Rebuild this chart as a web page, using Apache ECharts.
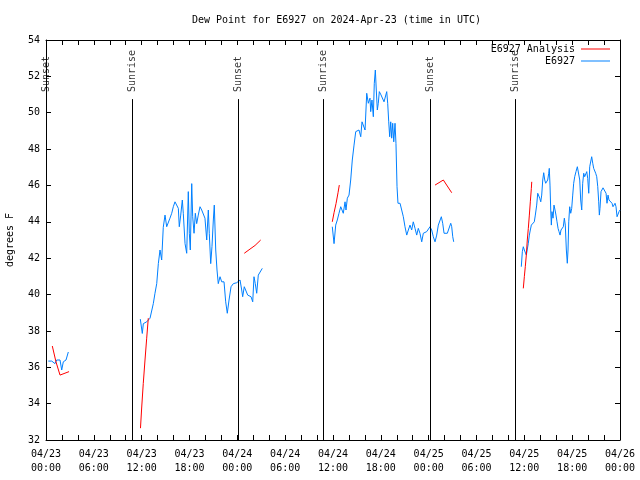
<!DOCTYPE html>
<html><head><meta charset="utf-8">
<script src="https://cdn.jsdelivr.net/npm/echarts@6/dist/echarts.min.js"></script>
<style>html,body{margin:0;padding:0;background:#fff}#c{width:640px;height:480px}</style>
</head><body><div id="c"></div>
<script>
// Hours since 2024-04-23 00:00 UTC; null marks a gap in the record
const obsHours = [
0.29,0.72,0.92,1.13,1.34,1.76,1.97,2.17,2.51,2.80,null,
11.83,12.08,12.21,12.42,12.63,12.83,13.05,13.26,13.46,13.67,13.89,14.09,14.30,14.51,14.71,14.93,15.14,15.34,15.55,15.77,15.97,16.18,16.40,16.60,16.72,16.90,17.10,17.22,17.44,17.65,17.85,17.98,18.10,18.28,18.40,18.57,18.73,18.90,19.10,19.32,19.53,19.73,19.94,20.16,20.36,20.48,20.66,20.82,20.99,21.11,21.29,21.45,21.61,21.83,22.04,22.33,22.54,22.74,22.96,23.21,23.50,23.92,24.34,24.55,24.67,24.87,25.09,25.30,25.50,25.72,25.93,26.09,26.25,26.43,26.63,26.84,27.13,null,
35.91,36.13,36.34,36.54,36.75,36.97,37.17,37.29,37.51,37.63,37.80,38.01,38.22,38.42,38.64,38.85,39.05,39.26,39.48,39.64,39.80,40.02,40.23,40.43,40.64,40.73,40.89,41.06,41.18,41.31,41.43,41.56,41.68,41.81,42.02,42.24,42.40,42.61,42.74,42.86,42.99,43.11,43.24,43.36,43.49,43.62,43.78,43.90,44.03,44.15,44.41,44.62,44.82,45.03,45.25,45.45,45.66,45.87,46.07,46.29,46.50,46.70,46.91,47.13,47.33,47.54,47.75,47.96,48.17,48.38,48.58,48.80,49.01,49.21,49.42,49.59,49.76,49.93,50.14,50.34,50.59,50.77,50.89,51.02,51.14,null,
59.62,59.75,59.87,60.00,60.12,60.25,60.37,60.50,60.63,60.75,60.88,61.00,61.13,61.25,61.38,61.55,61.68,61.80,61.93,62.06,62.18,62.31,62.43,62.56,62.68,62.81,62.93,63.06,63.13,63.22,63.31,63.39,63.47,63.60,63.72,63.85,63.97,64.10,64.23,64.35,64.48,64.60,64.73,64.89,65.02,65.14,65.27,65.39,65.48,65.57,65.69,65.82,65.94,66.07,66.19,66.32,66.48,66.65,66.82,66.95,67.07,67.20,67.32,67.45,67.57,67.70,67.83,67.95,68.08,68.20,68.33,68.45,68.58,68.70,68.83,68.95,69.08,69.21,69.33,69.41,69.49,69.62,69.74,69.87,70.00,70.12,70.25,70.37,70.50,70.62,70.75,70.87,71.00,71.12,71.25,71.38,71.50,71.63,71.75,71.88,72.00
];
const obsValues = [
36.34,36.34,36.4,36.2,36.4,36.4,35.85,36.3,36.4,36.84,null,
38.65,37.86,38.4,38.5,38.5,38.4,38.7,38.8,39.5,40.07,40.6,41.7,42.45,41.9,43.7,44.37,43.73,43.73,44.2,44.47,44.83,45.1,45.1,44.74,43.73,44.37,45.2,44.47,42.8,42.27,45.66,43.37,42.45,46.1,44.28,43.37,44.47,43.9,44.37,44.83,44.65,44.65,44.2,43.0,44.65,43.37,41.7,42.63,44.1,44.92,42.45,41.35,40.6,40.98,40.7,40.7,39.6,38.97,39.7,40.43,40.6,40.65,40.8,40.25,39.88,40.43,40.34,39.97,39.97,39.88,39.6,40.98,40.6,40.07,41.07,41.17,41.44,null,
43.73,42.8,43.82,44.1,44.47,44.83,44.92,44.47,45.1,44.65,45.3,45.47,46.3,47.4,48.22,48.96,49.05,49.05,48.68,49.5,49.6,49.05,51.07,50.52,50.8,50.06,50.7,49.78,51.62,52.35,51.25,50.15,50.52,51.16,50.98,50.9,50.6,50.7,51.16,50.52,49.5,48.68,49.5,48.6,49.42,48.4,49.42,48.3,45.93,45.02,45.02,44.92,44.28,43.73,43.27,43.55,43.82,43.55,44.0,43.64,43.27,43.64,43.37,42.9,43.37,43.46,43.46,43.55,43.73,43.55,43.18,42.9,43.27,43.82,43.92,44.28,43.92,43.37,43.37,43.37,43.37,43.92,43.73,43.18,42.9,null,
41.53,42.36,42.63,42.45,42.45,42.17,42.27,42.82,43.27,43.55,43.82,43.73,43.73,44.0,44.37,44.92,45.57,45.47,45.3,45.1,45.47,46.3,46.7,46.3,46.12,46.12,46.3,46.67,46.94,46.02,44.65,43.82,44.56,44.2,44.92,44.65,44.37,44.0,43.64,43.46,43.27,43.55,43.64,43.73,44.2,43.82,42.45,41.72,42.45,44.0,44.83,44.47,44.74,45.47,46.12,46.48,46.76,47.03,46.94,46.3,45.2,44.65,46.12,46.67,46.48,46.57,46.76,46.39,45.57,47.03,47.12,47.58,47.22,46.94,46.85,46.67,46.48,45.93,45.1,44.37,44.74,45.66,45.75,45.87,45.93,45.9,45.57,45.02,45.47,45.2,45.3,45.1,45.02,44.83,44.92,45.02,44.83,44.28,44.37,44.56,44.65
];
const anaHours = [
0.79,1.25,1.76,2.89,null,
11.85,12.00,12.20,12.42,12.63,12.83,null,
24.87,25.59,26.22,26.93,null,
35.91,36.13,36.38,36.63,36.79,null,
48.80,49.84,50.89,null,
59.87,60.00,60.12,60.25,60.37,60.50,60.63,60.75,60.88,60.93
];
const anaValues = [
37.17,36.3,35.57,35.76,null,
32.65,33.76,35.1,36.4,37.6,38.7,null,
42.27,42.5,42.7,43.0,null,
44.0,44.5,45.0,45.6,46.02,null,
46.02,46.3,45.6,null,
40.34,40.98,41.53,42.17,43.0,43.64,44.37,45.1,45.84,46.2
];
const sunHours = [0.08, 10.83, 24.12, 34.79, 48.21, 58.87];
const sunNames = ['Sunset','Sunrise','Sunset','Sunrise','Sunset','Sunrise'];
const xTickLabels = ['04/23\n00:00','04/23\n06:00','04/23\n12:00','04/23\n18:00','04/24\n00:00','04/24\n06:00','04/24\n12:00','04/24\n18:00','04/25\n00:00','04/25\n06:00','04/25\n12:00','04/25\n18:00','04/26\n00:00'];
const seriesNames = ['E6927 Analysis','E6927'];

function pairs(hs, vs){
  const out=[]; let last=0;
  for(let i=0;i<hs.length;i++){
    if(vs[i]==null){ out.push([last+0.01,'-']); }
    else { out.push([hs[i],vs[i]]); last=hs[i]; }
  }
  return out;
}
const FONT='DejaVu Sans Mono';
const sunTop = 50.75;
const chart = echarts.init(document.getElementById('c'), null, {renderer:'canvas'});
const axisX = (show, pos) => ({
  type:'value', min:0, max:72, interval:2, position:pos,
  axisLine:{show:true, onZero:false, lineStyle:{color:'#000',width:1}},
  axisTick:{show:true, inside:true, length:5, lineStyle:{color:'#000'}},
  splitLine:{show:false},
  axisLabel:{show:show, margin:7, fontFamily:FONT, fontSize:10, color:'#000', lineHeight:14,
    showMinLabel:true, showMaxLabel:true, hideOverlap:false,
    formatter:(v)=> (Math.round(v)%6===0 ? xTickLabels[Math.round(v)/6] : '')}
});
const axisY = (show,pos) => ({
  type:'value', min:32, max:54, interval:2, position:pos,
  axisLine:{show:true, onZero:false, lineStyle:{color:'#000',width:1}},
  axisTick:{show:true, inside:true, length:5, lineStyle:{color:'#000'}},
  splitLine:{show:false},
  axisLabel:{show:show, margin:6, fontFamily:FONT, fontSize:10, color:'#000'},
  name: show ? 'degrees F' : '', nameLocation:'middle', nameGap:31, nameRotate:90,
  nameTextStyle:{fontFamily:FONT, fontSize:10, color:'#000'}
});
const legendBase = (name, top) => ({
  data:[name], right:30, top:top, orient:'vertical', align:'right', padding:0,
  icon:'rect', itemWidth:29, itemHeight:1,
  textStyle:{fontFamily:FONT, fontSize:10, color:'#000', padding:[0,1,0,0]}
});
chart.setOption({
  animation:false,
  backgroundColor:'#fff',
  title:{text:'Dew Point for E6927 on 2024-Apr-23 (time in UTC)', left:187, top:10,
    textStyle:{fontFamily:FONT, fontSize:10, fontWeight:'normal', color:'#000'}},
  legend:[legendBase(seriesNames[0], 44), legendBase(seriesNames[1], 56)],
  grid:{left:46, right:20, top:40, bottom:40, containLabel:false, outerBoundsMode:'none'},
  xAxis:[axisX(true,'bottom'), axisX(false,'top')],
  yAxis:[axisY(true,'left'), axisY(false,'right')],
  series:[
    {name:seriesNames[0], type:'line', symbol:'none', connectNulls:false, data:pairs(anaHours, anaValues),
      lineStyle:{color:'#ff0000', width:1}, itemStyle:{color:'#ff0000'}, z:3},
    {name:seriesNames[1], type:'line', symbol:'none', connectNulls:false, data:pairs(obsHours, obsValues),
      lineStyle:{color:'#0080ff', width:1}, itemStyle:{color:'#0080ff'}, z:2},
    {name:'sun', type:'scatter', symbolSize:0, silent:true,
      data: sunHours.map((h,i)=>({value:[h,sunTop], label:{formatter:sunNames[i]}})),
      label:{show:true, position:'top', distance:5, rotate:90, align:'left', verticalAlign:'middle',
        offset:[2,0], fontFamily:FONT, fontSize:10, color:'#000'},
      markLine:{silent:true, symbol:'none', label:{show:false}, animation:false,
        lineStyle:{color:'#000', width:1, type:'solid'},
        data: sunHours.map(h=>[{coord:[h,sunTop]},{coord:[h,32]}])}
    }
  ]
});
</script></body></html>
